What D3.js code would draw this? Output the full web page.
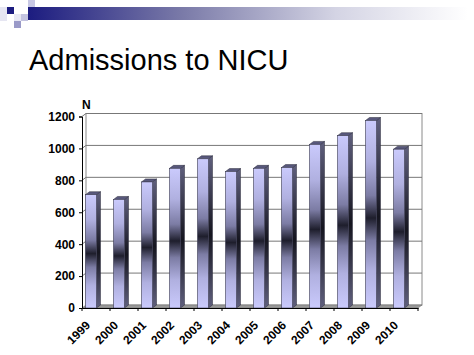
<!DOCTYPE html>
<html><head><meta charset="utf-8">
<script src="https://cdn.jsdelivr.net/npm/d3@7"></script>
<style>html,body{margin:0;padding:0;background:#fff;}svg{display:block;}</style>
</head><body>
<script>
const years = ["1999","2000","2001","2002","2003","2004","2005","2006","2007","2008","2009","2010"];
const admissions = [710, 680, 790, 875, 935, 855, 875, 880, 1025, 1080, 1175, 995];
const yTicks = [0, 200, 400, 600, 800, 1000, 1200];
const titleText = "Admissions to NICU";
const axisLabel = "N";

const W = 474, H = 355;
const svg = d3.select("body").append("svg").attr("width", W).attr("height", H);
const defs = svg.append("defs");

// header gradient
const hg = defs.append("linearGradient").attr("id","hdr").attr("x1",0).attr("x2",1).attr("y1",0).attr("y2",0);
hg.append("stop").attr("offset",0).attr("stop-color","#1c1c80");
hg.append("stop").attr("offset",0.35).attr("stop-color","#7a7aa8");
hg.append("stop").attr("offset",0.7).attr("stop-color","#d4d4e4");
hg.append("stop").attr("offset",1).attr("stop-color","#ffffff");
svg.append("rect").attr("x",28).attr("y",7).attr("width",440).attr("height",13).attr("fill","url(#hdr)");
// squares
const sq = [[0,7,7,14,"#e6e6f2"],[7,7,7,7,"#1c1c80"],[28,0,7,7,"#c8c8e4"],[21,14,7,7,"#c4c4e0"],[14,21,7,7,"#9a9ac8"],[14,14,7,7,"#e8e8f4"]];
sq.forEach(s => svg.append("rect").attr("x",s[0]).attr("y",s[1]).attr("width",s[2]).attr("height",s[3]).attr("fill",s[4]));

svg.append("text").attr("x",29).attr("y",70).attr("font-family","Liberation Sans, Arial, sans-serif")
  .attr("font-size",29).attr("fill","#000").text(titleText);

// bar gradients
const bg = defs.append("linearGradient").attr("id","barF").attr("x1",0).attr("x2",0).attr("y1",0).attr("y2",1);
[[0,"#cacafc"],[0.22,"#b0b0e0"],[0.4,"#7c7ca4"],[0.52,"#1e1e2c"],[0.64,"#7c7ca4"],[0.8,"#b0b0e0"],[1,"#cacafc"]].forEach(s=>bg.append("stop").attr("offset",s[0]).attr("stop-color",s[1]));
const bs = defs.append("linearGradient").attr("id","barS").attr("x1",0).attr("x2",0).attr("y1",0).attr("y2",1);
[[0,"#60607e"],[0.52,"#15151f"],[1,"#60607e"]].forEach(s=>bs.append("stop").attr("offset",s[0]).attr("stop-color",s[1]));

const x0 = 82, x1 = 418, dx = 4, dy = -3;
const y = d3.scaleLinear().domain([0,1200]).range([308,116.5]);
const x = d3.scaleBand().domain(years).range([x0,x1]).paddingInner(0).paddingOuter(0);

const font = "Liberation Sans, Arial, sans-serif";

// back wall
svg.append("rect").attr("x",x0+dx).attr("y",y(1200)+dy).attr("width",x1-x0).attr("height",y(0)-y(1200))
  .attr("fill","#fff").attr("stroke","#8a8a8a").attr("stroke-width",1);
yTicks.forEach(t => {
  if (t === 0) return;
  svg.append("line").attr("x1",x0+dx).attr("x2",x1+dx).attr("y1",y(t)+dy).attr("y2",y(t)+dy).attr("stroke","#777").attr("stroke-width",1);
  svg.append("line").attr("x1",x0).attr("x2",x0+dx).attr("y1",y(t)).attr("y2",y(t)+dy).attr("stroke","#777").attr("stroke-width",1);
});
// floor
svg.append("path").attr("d",`M${x0},${y(0)}L${x1},${y(0)}L${x1+dx},${y(0)+dy}L${x0+dx},${y(0)+dy}Z`)
  .attr("fill","#9a9a9a").attr("stroke","#666").attr("stroke-width",0.5);

// bars
const bw = 11, off = 3.5;
const g = svg.append("g");
years.forEach((yr,i) => {
  const v = admissions[i];
  const bx = x(yr) + off, top = y(v), bot = y(0);
  g.append("path").attr("d",`M${bx+bw},${top}L${bx+bw+dx},${top+dy}L${bx+bw+dx},${bot+dy}L${bx+bw},${bot}Z`)
    .attr("fill","url(#barS)").attr("stroke","#2a2a3a").attr("stroke-width",0.5);
  g.append("path").attr("d",`M${bx},${top}L${bx+dx},${top+dy}L${bx+bw+dx},${top+dy}L${bx+bw},${top}Z`)
    .attr("fill","#58587c").attr("stroke","#2a2a3a").attr("stroke-width",0.5);
  g.append("rect").attr("x",bx).attr("y",top).attr("width",bw).attr("height",bot-top)
    .attr("fill","url(#barF)").attr("stroke","#3a3a50").attr("stroke-width",0.6);
});

// y axis
const ya = svg.append("g").attr("transform",`translate(${x0},0)`)
  .call(d3.axisLeft(y).tickValues(yTicks).tickSize(3).tickPadding(4).tickFormat(d3.format("d")));
ya.select(".domain").attr("stroke","#000");
ya.selectAll("text").attr("font-family",font).attr("font-weight","bold").attr("font-size",12).attr("fill","#000");

// x axis
const xa = svg.append("g").attr("transform",`translate(0,${y(0)})`)
  .call(d3.axisBottom(x).tickSize(0).tickFormat(""));
xa.select(".domain").attr("stroke","#000");
const bounds = years.map(yr => x(yr)).concat([x1]);
bounds.forEach(b => svg.append("line").attr("x1",b).attr("x2",b).attr("y1",y(0)).attr("y2",y(0)+3).attr("stroke","#000"));
years.forEach(yr => {
  const cx = x(yr) + x.bandwidth()/2;
  svg.append("text").attr("transform",`translate(${cx-5},${y(0)+18}) rotate(-45)`)
    .attr("text-anchor","end").attr("font-family",font).attr("font-weight","bold").attr("font-size",12).attr("fill","#000").text(yr);
});

svg.append("text").attr("x",82).attr("y",109).attr("font-family",font).attr("font-weight","bold").attr("font-size",12).text(axisLabel);
</script>
</body></html>
